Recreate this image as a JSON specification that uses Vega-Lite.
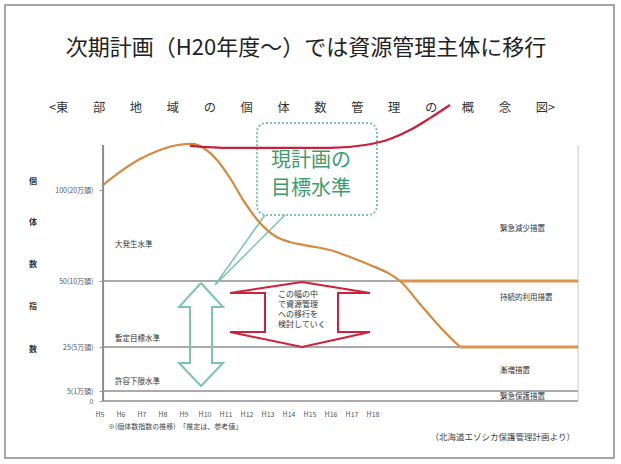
{
  "$schema": "https://vega.github.io/schema/vega-lite/v6.json",
  "width": 609,
  "height": 453,
  "autosize": {"type": "none"},
  "padding": {"left": 5, "top": 5, "right": 7, "bottom": 6},
  "background": "white",
  "config": {
    "view": {"stroke": "#8a8a8a", "strokeWidth": 1.5},
    "text": {"font": "Noto Sans CJK JP"},
    "axis": {"labelFont": "Noto Sans CJK JP"}
  },
  "encoding": {
    "x": {
      "field": "x", "type": "quantitative",
      "scale": {"domain": [0.5, 29.5], "nice": false, "zero": false},
      "axis": {"values": [5,6,7,8,9,10,11,12,13,14,15,16,17,18], "labelExpr": "'H' + datum.value", "offset": -57, "domain": false, "ticks": false, "grid": false, "title": null, "labelFontSize": 7, "labelColor": "#555", "labelPadding": 9, "labelOverlap": false, "labelFlush": false}
    },
    "y": {
      "field": "y", "type": "quantitative",
      "scale": {"domain": [-28.5, 0, 5, 25, 50, 100, 201.6], "range": [453, 396, 386, 342, 276, 185, 0], "nice": false, "zero": false},
      "axis": {"values": [0, 5, 25, 50, 100], "labelExpr": "datum.value == 100 ? '100(20万頭)' : datum.value == 50 ? '50(10万頭)' : datum.value == 25 ? '25(5万頭)' : datum.value == 5 ? '5(1万頭)' : '0'", "offset": -98, "domain": false, "ticks": true, "tickSize": 4, "tickColor": "#999", "grid": false, "title": null, "labelFontSize": 7, "labelColor": "#555", "labelPadding": 6, "labelOverlap": false, "labelFlush": false}
    }
  },
  "layer": [
    {
      "data": {"values": [
        {"x": 5.17, "x2": 19.31, "y": 50, "y2": 50},
        {"x": 5.17, "x2": 22.17, "y": 25, "y2": 25},
        {"x": 5.17, "x2": 27.79, "y": 5, "y2": 5},
        {"x": 5.17, "x2": 27.79, "y": 0, "y2": 0}
      ]},
      "mark": {"type": "rule", "color": "#aaaaaa", "strokeWidth": 2.2},
      "encoding": {"x2": {"field": "x2"}, "y2": {"field": "y2"}}
    },
    {
      "data": {"values": [{"x": 5.17, "x2": 5.17, "y": 0, "y2": 124.7}]},
      "mark": {"type": "rule", "color": "#8c8c8c", "strokeWidth": 2},
      "encoding": {"x2": {"field": "x2"}, "y2": {"field": "y2"}}
    },
    {
      "data": {"values": [{"x": 27.79, "x2": 27.79, "y": 0, "y2": 124.7}]},
      "mark": {"type": "rule", "color": "#c8c8c8", "strokeWidth": 1},
      "encoding": {"x2": {"field": "x2"}, "y2": {"field": "y2"}}
    },
    {
      "data": {"values": [
        {"x": 19.31, "x2": 27.79, "y": 50, "y2": 50},
        {"x": 22.17, "x2": 27.79, "y": 25, "y2": 25}
      ]},
      "mark": {"type": "rule", "color": "#dd9350", "strokeWidth": 3},
      "encoding": {"x2": {"field": "x2"}, "y2": {"field": "y2"}}
    },
    {
      "data": {"values": [{"x": 12.5, "x2": 18.214, "y": 136.8, "y2": 86.26}]},
      "mark": {"type": "rect", "fill": "white", "stroke": "#7cc4ae", "strokeWidth": 2, "strokeDash": [2, 2], "cornerRadius": 9},
      "encoding": {"x2": {"field": "x2"}, "y2": {"field": "y2"}}
    },
    {
      "data": {"values": [
        {"x": 12.881, "y": 86.26, "o": 1},
        {"x": 10.5, "y": 48.48, "o": 2},
        {"x": 13.833, "y": 86.26, "o": 3}
      ]},
      "mark": {"type": "line", "color": "#7cc4ae", "strokeWidth": 1.5},
      "encoding": {"order": {"field": "o", "type": "quantitative"}}
    },
    {
      "data": {"values": [
        {"x": 5.167, "y": 102.7}, {"x": 5.976, "y": 109.9}, {"x": 6.929, "y": 117.0},
        {"x": 7.881, "y": 122.0}, {"x": 8.738, "y": 124.7}, {"x": 9.405, "y": 125.3},
        {"x": 10.024, "y": 122.5}, {"x": 10.595, "y": 116.5}, {"x": 11.214, "y": 106.6},
        {"x": 11.929, "y": 92.9}, {"x": 12.643, "y": 81.9}, {"x": 13.357, "y": 74.7},
        {"x": 14.071, "y": 71.4}, {"x": 15.024, "y": 69.2}, {"x": 15.976, "y": 67.0},
        {"x": 16.929, "y": 63.2}, {"x": 17.881, "y": 58.8}, {"x": 18.833, "y": 53.8},
        {"x": 19.31, "y": 50}, {"x": 20.262, "y": 41.3}, {"x": 21.214, "y": 32.6},
        {"x": 22.167, "y": 25}
      ]},
      "mark": {"type": "line", "color": "#d48a40", "strokeWidth": 2.2, "interpolate": "monotone"}
    },
    {
      "data": {"values": [
        {"x": 9.31, "y": 124.2}, {"x": 11.214, "y": 123.1}, {"x": 13.595, "y": 123.1},
        {"x": 15.976, "y": 123.1}, {"x": 17.643, "y": 124.7}, {"x": 18.833, "y": 128.0},
        {"x": 19.786, "y": 132.9}, {"x": 20.738, "y": 139.5}, {"x": 21.69, "y": 146.7}
      ]},
      "mark": {"type": "line", "color": "#c9203a", "strokeWidth": 2.2, "interpolate": "monotone"}
    },
    {
      "data": {"values": [
        {"x": 9.833, "y": 49.24, "o": 1}, {"x": 10.881, "y": 40.15, "o": 2},
        {"x": 10.357, "y": 40.15, "o": 3}, {"x": 10.357, "y": 17.73, "o": 4},
        {"x": 10.881, "y": 17.73, "o": 5}, {"x": 9.833, "y": 7.27, "o": 6},
        {"x": 8.786, "y": 17.73, "o": 7}, {"x": 9.31, "y": 17.73, "o": 8},
        {"x": 9.31, "y": 40.15, "o": 9}, {"x": 8.786, "y": 40.15, "o": 10},
        {"x": 9.833, "y": 49.24, "o": 11}
      ]},
      "mark": {"type": "line", "color": "#7cc4ae", "strokeWidth": 2},
      "encoding": {"order": {"field": "o", "type": "quantitative"}}
    },
    {
      "data": {"values": [
        {"x": 14.643, "y": 49.62, "o": 1}, {"x": 17.881, "y": 45.45, "o": 2},
        {"x": 16.357, "y": 45.45, "o": 3}, {"x": 16.357, "y": 30.68, "o": 4},
        {"x": 17.881, "y": 30.68, "o": 5}, {"x": 14.643, "y": 25, "o": 6},
        {"x": 11.214, "y": 30.68, "o": 7}, {"x": 12.881, "y": 30.68, "o": 8},
        {"x": 12.881, "y": 45.45, "o": 9}, {"x": 11.214, "y": 45.45, "o": 10},
        {"x": 14.643, "y": 49.62, "o": 11}
      ]},
      "mark": {"type": "line", "color": "#d0203a", "strokeWidth": 2},
      "encoding": {"order": {"field": "o", "type": "quantitative"}}
    },
    {
      "data": {"values": [{"x": 14.833, "y": 178.0, "label": "次期計画（H20年度～）では資源管理主体に移行"}]},
      "mark": {"type": "text", "fontSize": 22, "color": "#222", "align": "center", "baseline": "middle"},
      "encoding": {"text": {"field": "label"}}
    },
    {
      "data": {"values": [{"x": 14.643, "y": 145.0, "label": "<東　　部　　地　　域　　の　　個　　体　　数　　管　　理　　の　　概　　念　　図>"}]},
      "mark": {"type": "text", "fontSize": 12.3, "color": "#333", "align": "center", "baseline": "middle"},
      "encoding": {"text": {"field": "label"}}
    },
    {
      "data": {"values": [
        {"x": 15.07, "y": 115.8, "label": "現計画の"},
        {"x": 15.07, "y": 100.6, "label": "目標水準"}
      ]},
      "mark": {"type": "text", "fontSize": 20, "color": "#3a9d6e", "align": "center", "baseline": "middle"},
      "encoding": {"text": {"field": "label"}}
    },
    {
      "data": {"values": [
        {"x": 13.5, "y": 44.7, "label": "この幅の中"},
        {"x": 13.5, "y": 40.9, "label": "で資源管理"},
        {"x": 13.5, "y": 37.1, "label": "への移行を"},
        {"x": 13.5, "y": 33.3, "label": "検討していく"}
      ]},
      "mark": {"type": "text", "fontSize": 8, "color": "#333", "align": "left", "baseline": "middle"},
      "encoding": {"text": {"field": "label"}}
    },
    {
      "data": {"values": [
        {"x": 5.738, "y": 69.8, "label": "大発生水準"},
        {"x": 5.738, "y": 28.03, "label": "暫定目標水準"},
        {"x": 5.738, "y": 9.09, "label": "許容下限水準"},
        {"x": 24.07, "y": 78.6, "label": "緊急減少措置"},
        {"x": 24.07, "y": 43.56, "label": "持続的利用措置"},
        {"x": 24.07, "y": 14.09, "label": "漸増措置"},
        {"x": 24.07, "y": 2.0, "label": "緊急保護措置"}
      ]},
      "mark": {"type": "text", "fontSize": 7.5, "color": "#333", "align": "left", "baseline": "middle"},
      "encoding": {"text": {"field": "label"}}
    },
    {
      "data": {"values": [
        {"x": 1.833, "y": 104.4, "label": "個"},
        {"x": 1.833, "y": 81.9, "label": "体"},
        {"x": 1.833, "y": 58.8, "label": "数"},
        {"x": 1.833, "y": 40.15, "label": "指"},
        {"x": 1.833, "y": 23.6, "label": "数"}
      ]},
      "mark": {"type": "text", "fontSize": 8, "fontWeight": "bold", "color": "#333", "align": "center", "baseline": "middle"},
      "encoding": {"text": {"field": "label"}}
    },
    {
      "data": {"values": [{"x": 5.405, "y": -13.0, "label": "※(個体数指数の推移)　「推定は、参考値」"}]},
      "mark": {"type": "text", "fontSize": 7, "color": "#444", "align": "left", "baseline": "middle"},
      "encoding": {"text": {"field": "label"}}
    },
    {
      "data": {"values": [{"x": 27.64, "y": -18.0, "label": "（北海道エゾシカ保護管理計画より）"}]},
      "mark": {"type": "text", "fontSize": 8.5, "color": "#444", "align": "right", "baseline": "middle"},
      "encoding": {"text": {"field": "label"}}
    }
  ]
}
